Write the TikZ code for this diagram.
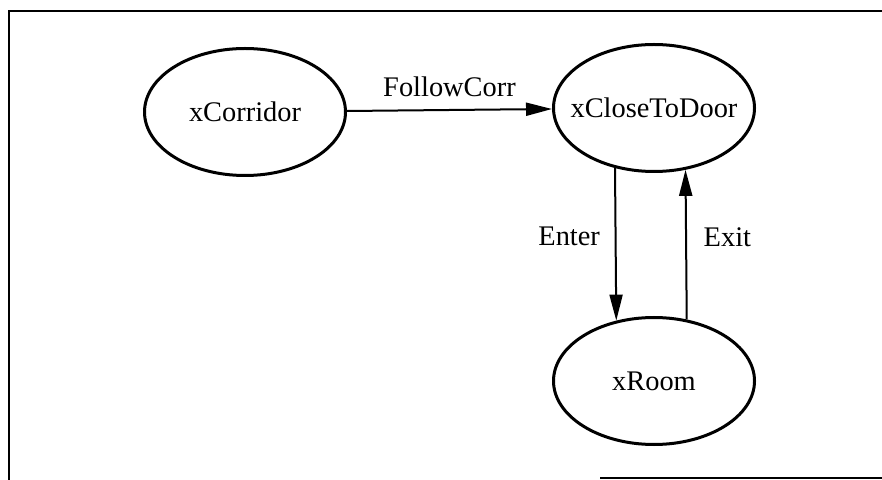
\documentclass[tikz,border=0pt]{standalone}
\usepackage{fontspec}
\setmainfont{Liberation Serif}
\usepackage{tikz}
\usetikzlibrary{arrows.meta, shapes.geometric}

\begin{document}
\begin{tikzpicture}[x=0.5pt, y=-0.5pt, font=\fontsize{14.2}{16}\selectfont,
    state/.style={ellipse, draw, line width=1.5pt, inner xsep=-7pt, inner ysep=0pt,
      minimum width=100.5pt, minimum height=63.5pt},
    trans/.style={line width=1pt, -{Triangle[length=13pt, width=6.5pt]}}]
  \useasboundingbox (0,0) rectangle (882,480);
  % frame
  \draw[line width=1pt] (9,480) -- (9,11) -- (882,11);
  \draw[line width=1pt] (600,478) -- (882,478);

  % states
  \node[state] (corr) at (245,112) {xCorridor};
  \node[state] (door) at (654,108) {xCloseToDoor};
  \node[state] (room) at (654,381) {xRoom};

  % transitions
  \draw[trans] (corr) -- node[above=3pt] {FollowCorr} (door);
  \draw[trans] (door.237.9) -- node[pos=0.45, left=4pt] {Enter} (room.122.1);
  \draw[trans] (room.62.8) -- node[pos=0.55, right=5pt] {Exit} (door.297.2);
\end{tikzpicture}
\end{document}
